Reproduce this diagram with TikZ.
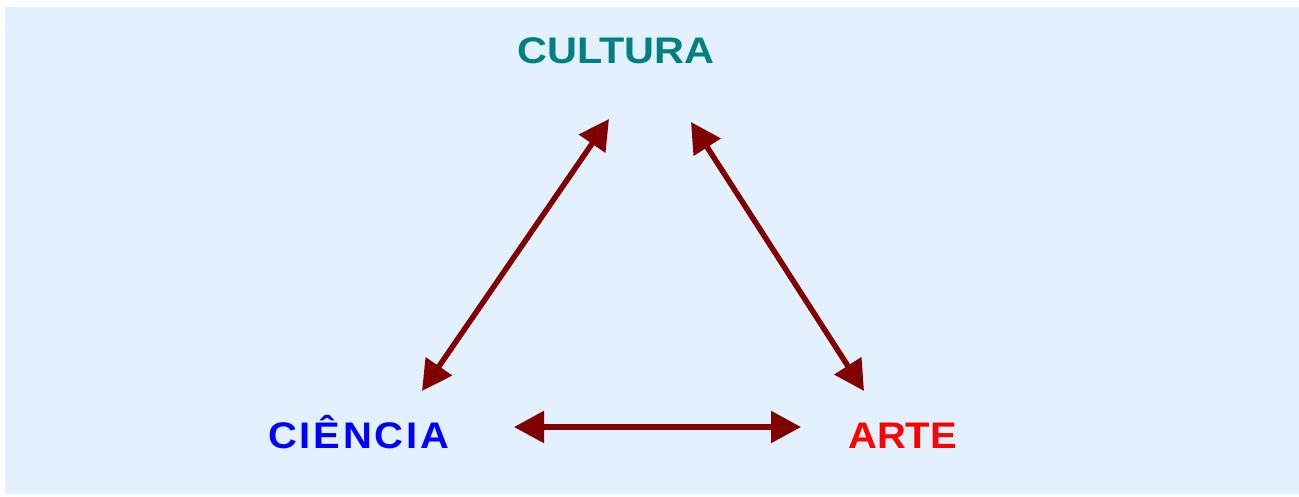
\documentclass[tikz,border=0pt]{standalone}
\usepackage{fontspec}
\setmainfont{Liberation Sans}
\usetikzlibrary{arrows.meta}
\definecolor{panelbg}{RGB}{227,241,254}
\definecolor{linkred}{RGB}{128,0,0}
\definecolor{tealtxt}{RGB}{0,128,128}
\tikzset{
  label text/.style={font=\fontsize{37}{41}\selectfont\bfseries, inner sep=0pt, anchor=base west},
  link/.style={draw=linkred, line width=5.5pt, {Triangle[length=30pt,width=31pt]}-{Triangle[length=30pt,width=31pt]}}
}
\begin{document}
\begin{tikzpicture}[x=1pt,y=-1pt]
  \useasboundingbox (0,0) rectangle (1299,496);
  \fill[panelbg] (5,7) rectangle (1299,494);

  \node[label text, text=tealtxt] (cultura) at (517,63) {\addfontfeature{FakeStretch=1.12}CULTURA};
  \node[label text, text=blue] (ciencia) at (268,448) {\addfontfeature{FakeStretch=1.08,LetterSpace=7.5}CIÊNCIA};
  \node[label text, text=red] (arte) at (848,448) {\addfontfeature{FakeStretch=1.08}ARTE};

  \coordinate (cuL) at (609,119);
  \coordinate (cuR) at (691,122);
  \coordinate (ciT) at (422,391);
  \coordinate (ciR) at (514,427);
  \coordinate (arT) at (864,391);
  \coordinate (arL) at (801,427);

  \draw[link] (ciT) -- (cuL);
  \draw[link] (cuR) -- (arT);
  \draw[link] (ciR) -- (arL);
\end{tikzpicture}
\end{document}
